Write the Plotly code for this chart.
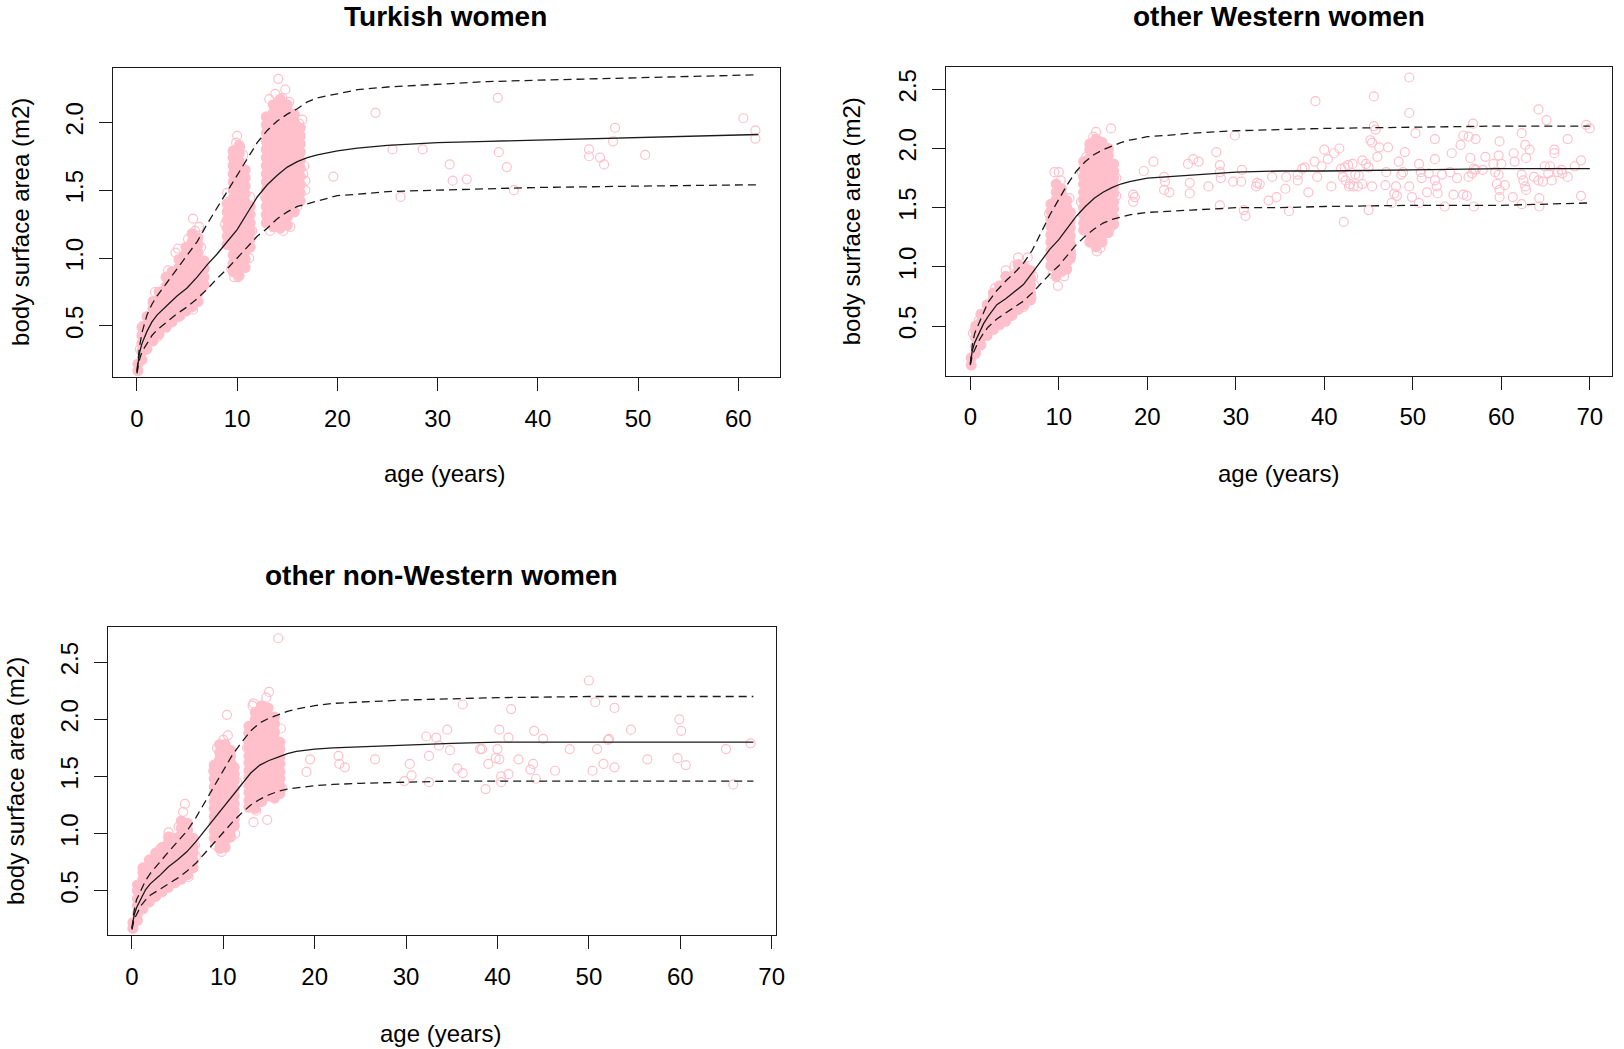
import plotly.graph_objects as go

PINK = "#FFC0CB"
INK = "#1a1a1a"
FONT = "Liberation Sans, Arial, sans-serif"
W, H = 1624, 1049

# ---------------- Turkish women ----------------
tk_col_age = [0.1, 0.5, 1.0, 1.6, 2.2, 2.9, 3.5, 4.2, 4.9, 5.5, 6.1, 6.7,
              9.0, 9.6, 10.2, 10.8, 11.3,
              12.9, 13.6, 14.3, 15.0, 15.7, 16.3]
tk_col_bsa = [
    [0.17, 0.22],
    [0.25, 0.31, 0.37, 0.43, 0.49],
    [0.33, 0.39, 0.45, 0.51, 0.57],
    [0.39, 0.45, 0.51, 0.57, 0.63, 0.68],
    [0.44, 0.50, 0.56, 0.62, 0.68, 0.75],
    [0.49, 0.55, 0.61, 0.67, 0.73, 0.79, 0.86],
    [0.53, 0.59, 0.65, 0.71, 0.77, 0.83, 0.90],
    [0.57, 0.63, 0.69, 0.75, 0.81, 0.87, 0.93, 0.99],
    [0.61, 0.67, 0.73, 0.79, 0.85, 0.91, 0.97, 1.03, 1.08],
    [0.64, 0.70, 0.76, 0.82, 0.88, 0.94, 1.00, 1.06, 1.12, 1.18],
    [0.68, 0.74, 0.80, 0.86, 0.92, 0.98, 1.04, 1.10, 1.15],
    [0.80, 0.86, 0.92, 0.98],
    [1.10, 1.16, 1.22, 1.28, 1.34, 1.40],
    [0.90, 0.96, 1.02, 1.08, 1.14, 1.20, 1.26, 1.32, 1.38, 1.44, 1.50, 1.56, 1.62, 1.68, 1.74, 1.79],
    [0.87, 0.93, 0.99, 1.05, 1.11, 1.17, 1.23, 1.29, 1.35, 1.41, 1.47, 1.53, 1.59, 1.65, 1.71, 1.77, 1.83],
    [0.93, 0.99, 1.05, 1.11, 1.17, 1.23, 1.29, 1.35, 1.41, 1.47, 1.53, 1.59, 1.65],
    [1.08, 1.14, 1.20, 1.26, 1.32, 1.38],
    [1.26, 1.32, 1.38, 1.44, 1.50, 1.56, 1.62, 1.68, 1.74, 1.80, 1.86, 1.92, 1.98, 2.04],
    [1.23, 1.29, 1.35, 1.41, 1.47, 1.53, 1.59, 1.65, 1.71, 1.77, 1.83, 1.89, 1.95, 2.01, 2.07, 2.13],
    [1.22, 1.28, 1.34, 1.40, 1.46, 1.52, 1.58, 1.64, 1.70, 1.76, 1.82, 1.88, 1.94, 2.00, 2.06, 2.12, 2.17],
    [1.24, 1.30, 1.36, 1.42, 1.48, 1.54, 1.60, 1.66, 1.72, 1.78, 1.84, 1.90, 1.96, 2.02, 2.08, 2.13],
    [1.34, 1.40, 1.46, 1.52, 1.58, 1.64, 1.70, 1.76, 1.82, 1.88, 1.94, 2.00, 2.06],
    [1.42, 1.48, 1.54, 1.60, 1.66, 1.72, 1.78, 1.84, 1.90, 1.96],
]
tk_ring_age = [1.8, 3.1, 3.85, 4.1, 5.1, 5.6, 6.2, 6.4, 6.7, 1.3, 2.05, 3.3, 4.4, 5.4, 5.6, 6.4, 5.8, 4.8, 0.3, 0.6,
               10.0, 9.9, 10.3, 10.6, 9.7, 10.1, 9.4, 11.2, 9.0, 8.8, 11.5, 11.3,
               14.1, 14.8, 13.2, 14.5, 15.2, 13.8, 16.2, 16.8, 16.8, 16.6, 16.7, 13.3, 14.6, 15.3, 13.0, 12.8, 16.0, 16.5]
tk_ring_bsa = [0.75, 0.91, 1.04, 1.07, 1.14, 1.29, 1.23, 1.08, 0.93, 0.42, 0.42, 0.54, 0.58, 0.64, 0.62, 0.79, 1.20, 1.02, 0.33, 0.50,
               1.90, 1.85, 1.82, 1.76, 0.86, 0.86, 0.92, 1.00, 1.48, 1.25, 1.20, 1.45,
               2.32, 2.24, 2.17, 2.18, 2.15, 2.21, 1.99, 1.57, 1.50, 1.62, 1.68, 1.20, 1.20, 1.23, 1.30, 1.45, 1.38, 2.02]
tk_adult_age = [19.6, 23.8, 25.5, 26.3, 28.5, 31.2, 31.5, 32.9, 36.0, 36.1, 36.9, 37.6,
                45.1, 45.1, 46.2, 46.6, 47.5, 47.7, 50.7, 60.5, 61.7, 61.7]
tk_adult_bsa = [1.60, 2.07, 1.80, 1.45, 1.80, 1.69, 1.57, 1.58, 2.18, 1.78, 1.67, 1.50,
                1.80, 1.75, 1.74, 1.69, 1.86, 1.96, 1.76, 2.03, 1.94, 1.88]
tk_curve_age = [0, 0.25, 0.5, 1, 1.5, 2, 3, 4, 5, 6, 7, 8, 9, 10, 11, 12, 13, 14, 15, 16, 17, 18, 20, 22, 25, 30, 35, 40, 50, 62]
tk_median = [0.16, 0.30, 0.37, 0.46, 0.53, 0.58, 0.65, 0.72, 0.78, 0.86, 0.95, 1.03, 1.12, 1.21, 1.33, 1.45, 1.54, 1.61, 1.67, 1.71,
             1.74, 1.76, 1.79, 1.81, 1.83, 1.85, 1.86, 1.87, 1.89, 1.91]
tk_upper = [0.17, 0.34, 0.45, 0.58, 0.66, 0.72, 0.82, 0.92, 1.02, 1.12, 1.25, 1.37, 1.50, 1.62, 1.74, 1.85, 1.94, 2.01, 2.06, 2.10,
            2.15, 2.18, 2.21, 2.24, 2.26, 2.28, 2.30, 2.31, 2.33, 2.35]
tk_lower = [0.15, 0.25, 0.31, 0.37, 0.43, 0.47, 0.53, 0.59, 0.64, 0.70, 0.77, 0.85, 0.92, 1.00, 1.08, 1.16, 1.22, 1.29, 1.34, 1.38,
            1.40, 1.42, 1.46, 1.47, 1.49, 1.50, 1.51, 1.52, 1.53, 1.54]

# ---------------- other Western women ----------------
ow_col_age = [0.1, 0.6, 1.2, 1.9, 2.6, 3.3, 4.0, 4.7, 5.4, 6.1, 6.8,
              9.1, 9.7, 10.3, 10.9, 11.3,
              12.8, 13.5, 14.2, 14.9, 15.6, 16.2]
ow_col_bsa = [
    [0.17, 0.23],
    [0.27, 0.33, 0.40, 0.46, 0.50],
    [0.34, 0.40, 0.47, 0.53, 0.60],
    [0.42, 0.48, 0.55, 0.61, 0.68],
    [0.47, 0.53, 0.60, 0.66, 0.73, 0.78],
    [0.51, 0.57, 0.64, 0.70, 0.77, 0.84],
    [0.54, 0.60, 0.67, 0.73, 0.80, 0.86, 0.92],
    [0.59, 0.65, 0.72, 0.78, 0.85, 0.92],
    [0.64, 0.70, 0.77, 0.83, 0.90, 0.96, 1.02],
    [0.68, 0.74, 0.81, 0.87, 0.94, 1.00],
    [0.72, 0.78, 0.85, 0.91, 0.97],
    [1.01, 1.08, 1.14, 1.21, 1.27, 1.34, 1.40, 1.47, 1.53],
    [0.92, 0.98, 1.05, 1.11, 1.18, 1.24, 1.31, 1.37, 1.44, 1.50, 1.57, 1.63, 1.70],
    [0.96, 1.02, 1.09, 1.15, 1.22, 1.28, 1.35, 1.41, 1.48, 1.54, 1.61, 1.66],
    [0.98, 1.04, 1.11, 1.17, 1.24, 1.30, 1.37, 1.43, 1.50, 1.56],
    [1.07, 1.13, 1.20, 1.26, 1.33, 1.39, 1.46],
    [1.31, 1.37, 1.44, 1.50, 1.57, 1.63, 1.70, 1.76, 1.83, 1.89],
    [1.21, 1.27, 1.34, 1.40, 1.47, 1.53, 1.60, 1.66, 1.73, 1.79, 1.86, 1.92, 1.99, 2.04],
    [1.17, 1.23, 1.30, 1.36, 1.43, 1.49, 1.56, 1.62, 1.69, 1.75, 1.82, 1.88, 1.95, 2.01, 2.08],
    [1.21, 1.27, 1.34, 1.40, 1.47, 1.53, 1.60, 1.66, 1.73, 1.79, 1.86, 1.92, 1.99, 2.05],
    [1.29, 1.35, 1.42, 1.48, 1.55, 1.61, 1.68, 1.74, 1.81, 1.87, 1.94, 2.00],
    [1.36, 1.42, 1.49, 1.55, 1.62, 1.68, 1.75, 1.81, 1.87],
]
ow_ring_age = [4.0, 5.4, 6.5, 6.0, 3.7, 7.2, 7.1, 2.8, 1.0, 5.0, 6.9, 0.3,
               9.5, 10.0, 10.2, 9.9, 9.3, 10.6, 11.4, 8.9, 11.2,
               14.2, 13.9, 15.9, 14.6, 14.3, 14.1, 14.7, 15.8, 16.5, 16.5, 12.6, 12.5, 13.1]
ow_ring_bsa = [0.97, 1.08, 1.08, 0.66, 0.54, 0.85, 0.92, 0.82, 0.55, 1.01, 0.74, 0.44,
               1.80, 1.80, 1.73, 0.84, 0.94, 0.92, 1.10, 1.45, 1.58,
               2.14, 2.10, 2.17, 2.06, 1.13, 1.20, 1.16, 1.33, 1.60, 1.75, 1.80, 1.55, 1.93]
ow_adult_age = [18.4, 18.6, 18.4, 19.6, 20.7, 21.9, 22.0, 21.9, 22.5, 24.6, 25.2, 25.8, 24.8, 24.8, 26.9,
                27.8, 28.2, 28.2, 28.3, 28.2, 29.9, 29.7, 30.6, 30.7, 30.9, 31.1, 32.3, 32.4, 32.7, 33.7,
                34.1, 34.6, 35.6, 35.7, 36.0, 37.0, 37.0, 37.5, 37.8, 38.2, 38.9, 39.0, 39.2, 39.7, 40.0,
                40.4, 40.8, 41.1, 41.7, 41.9, 42.3, 42.7, 43.2, 42.1, 42.4, 42.9, 43.3, 43.8, 44.3, 42.8,
                43.5, 43.9, 42.2,
                49.6, 45.6, 49.6, 45.6, 45.8, 50.3, 45.2, 45.4, 46.2, 47.2,
                46.0, 52.5, 44.3, 44.7, 45.0, 45.4, 45.0, 47.0, 46.9, 47.6,
                47.9, 48.1, 48.2, 48.4, 48.7, 48.9, 49.1, 49.6, 49.9, 50.7,
                50.9, 51.0, 50.7, 51.6, 51.8, 52.5, 52.5, 52.7, 52.8, 53.3,
                53.6, 54.2, 54.4, 54.6, 55.0, 55.4, 55.7, 56.3, 55.7, 56.1,
                56.5, 56.7, 56.9, 57.1, 56.3, 56.8, 57.1, 56.9, 58.2, 57.9,
                59.1, 59.7, 59.3, 59.7, 60.0, 59.5, 60.4, 59.8, 59.8, 59.8,
                61.4, 61.5, 62.3, 61.3, 62.3, 62.5, 62.7, 62.8, 62.7, 62.8,
                63.2, 62.3, 63.7, 64.2, 64.3, 64.3, 64.2, 64.7, 65.1, 64.9,
                65.5, 65.3, 65.7, 66.0, 66.0, 66.4, 66.8, 66.9, 67.5, 67.5,
                68.3, 69.0, 69.0, 69.6, 70.0]
ow_adult_bsa = [1.61, 1.59, 1.55, 1.81, 1.89, 1.76, 1.72, 1.65, 1.63, 1.87, 1.91, 1.89, 1.71, 1.62, 1.68,
                1.97, 1.86, 1.80, 1.75, 1.52, 2.11, 1.72, 1.72, 1.82, 1.48, 1.43, 1.68, 1.71, 1.70, 1.56,
                1.76, 1.59, 1.66, 1.76, 1.47, 1.73, 1.78, 1.83, 1.84, 1.63, 1.89, 2.40, 1.76, 1.85, 1.99,
                1.91, 1.68, 1.96, 2.00, 1.83, 1.84, 1.86, 1.87, 1.76, 1.73, 1.70, 1.68, 1.68, 1.70, 1.68,
                1.78, 1.77, 1.38,
                2.60, 2.44, 2.30, 2.19, 2.16, 2.13, 2.07, 2.05, 2.01, 2.01,
                1.93, 2.08, 1.90, 1.87, 1.84, 1.68, 1.48, 1.80, 1.69, 1.54,
                1.62, 1.68, 1.60, 1.89, 1.78, 1.80, 1.97, 1.68, 1.59, 1.87,
                1.80, 1.75, 1.54, 1.63, 1.79, 1.91, 1.73, 1.68, 1.62, 1.78,
                1.51, 1.80, 1.96, 1.61, 1.75, 2.03, 2.11, 2.10, 1.61, 1.60,
                1.92, 1.79, 1.83, 1.82, 1.76, 2.21, 2.08, 1.51, 1.93, 1.82,
                1.87, 1.94, 1.80, 1.78, 1.87, 1.70, 1.69, 1.65, 1.59, 2.06,
                1.96, 1.89, 2.13, 1.59, 1.78, 1.73, 1.68, 1.65, 2.03, 1.92,
                1.99, 1.53, 1.76, 2.33, 1.58, 1.51, 1.73, 1.72, 2.24, 1.85,
                1.85, 1.79, 1.73, 1.99, 1.96, 1.80, 1.82, 1.79, 2.08, 1.76,
                1.85, 1.90, 1.60, 2.20, 2.17]
ow_curve_age = [0, 0.25, 0.5, 1, 1.5, 2, 3, 4, 5, 6, 7, 8, 9, 10, 11, 12, 13, 14, 15, 16, 17, 18, 20, 22, 25, 30, 35, 40, 50, 60, 70]
ow_median = [0.18, 0.30, 0.36, 0.44, 0.52, 0.58, 0.68, 0.73, 0.79, 0.85, 0.95, 1.05, 1.15, 1.23, 1.33, 1.43, 1.51, 1.58, 1.63, 1.67,
             1.70, 1.72, 1.75, 1.76, 1.78, 1.80, 1.81, 1.81, 1.82, 1.83, 1.83]
ow_upper = [0.18, 0.35, 0.44, 0.53, 0.62, 0.70, 0.80, 0.88, 0.95, 1.03, 1.14, 1.29, 1.44, 1.57, 1.70, 1.81, 1.89, 1.95, 1.99, 2.02,
            2.05, 2.07, 2.10, 2.11, 2.13, 2.15, 2.16, 2.17, 2.18, 2.19, 2.19]
ow_lower = [0.17, 0.26, 0.30, 0.38, 0.44, 0.49, 0.56, 0.61, 0.66, 0.71, 0.78, 0.86, 0.94, 1.01, 1.10, 1.19, 1.26, 1.32, 1.37, 1.40,
            1.42, 1.44, 1.46, 1.47, 1.48, 1.50, 1.50, 1.51, 1.52, 1.52, 1.54]

# ---------------- other non-Western women ----------------
on_col_age = [0.1, 0.6, 1.2, 1.9, 2.6, 3.3, 4.0, 4.7, 5.4, 6.1, 6.7,
              9.0, 9.6, 10.2, 10.8, 11.2,
              12.8, 13.5, 14.2, 14.9, 15.6, 16.2]
on_col_bsa = [
    [0.17, 0.22],
    [0.24, 0.30, 0.37, 0.43, 0.50, 0.55],
    [0.34, 0.40, 0.47, 0.53, 0.60, 0.66, 0.70],
    [0.40, 0.46, 0.53, 0.59, 0.66, 0.72, 0.77],
    [0.45, 0.51, 0.58, 0.64, 0.71, 0.77, 0.83],
    [0.49, 0.55, 0.62, 0.68, 0.75, 0.81, 0.88],
    [0.53, 0.59, 0.66, 0.72, 0.79, 0.85, 0.92, 0.97],
    [0.57, 0.63, 0.70, 0.76, 0.83, 0.89, 0.96],
    [0.60, 0.66, 0.73, 0.79, 0.86, 0.92, 0.99, 1.05, 1.11],
    [0.64, 0.70, 0.77, 0.83, 0.90, 0.96, 1.03, 1.09],
    [0.70, 0.76, 0.83, 0.89, 0.96],
    [0.96, 1.02, 1.09, 1.15, 1.22, 1.28, 1.35, 1.41, 1.48, 1.54, 1.60],
    [0.87, 0.93, 1.00, 1.06, 1.13, 1.19, 1.26, 1.32, 1.39, 1.45, 1.52, 1.58, 1.65, 1.71, 1.78],
    [0.88, 0.94, 1.01, 1.07, 1.14, 1.20, 1.27, 1.33, 1.40, 1.46, 1.53, 1.59, 1.66, 1.72, 1.78],
    [0.97, 1.03, 1.10, 1.16, 1.23, 1.29, 1.36, 1.42, 1.49, 1.55, 1.62, 1.68, 1.73],
    [1.07, 1.13, 1.20, 1.26, 1.33, 1.39, 1.46, 1.52, 1.58],
    [1.23, 1.29, 1.36, 1.42, 1.49, 1.55, 1.62, 1.68, 1.75, 1.81, 1.88, 1.94],
    [1.22, 1.28, 1.35, 1.41, 1.48, 1.54, 1.61, 1.67, 1.74, 1.80, 1.87, 1.93, 2.00, 2.06],
    [1.28, 1.34, 1.41, 1.47, 1.54, 1.60, 1.67, 1.73, 1.80, 1.86, 1.93, 1.99, 2.06, 2.12],
    [1.33, 1.39, 1.46, 1.52, 1.59, 1.65, 1.72, 1.78, 1.85, 1.91, 1.98, 2.04, 2.10],
    [1.31, 1.37, 1.44, 1.50, 1.57, 1.63, 1.70, 1.76, 1.83, 1.89, 1.96, 2.02],
    [1.35, 1.41, 1.48, 1.54, 1.61, 1.67, 1.74, 1.80],
]
on_ring_age = [5.8, 5.6, 4.0, 4.1, 7.0, 6.9, 4.1, 2.4, 3.0, 5.1, 6.2,
               10.4, 10.5, 10.0, 9.3, 9.8, 11.3, 8.9, 11.5, 9.1,
               13.3, 13.2, 15.0, 14.7, 16.0, 13.3, 14.8, 13.6, 16.3, 16.4, 12.6]
on_ring_bsa = [1.26, 1.19, 1.01, 0.97, 0.80, 0.90, 0.56, 0.47, 0.86, 1.06, 0.62,
               2.04, 1.86, 1.82, 1.75, 0.84, 1.00, 1.55, 1.45, 0.90,
               2.14, 2.12, 2.24, 2.19, 2.71, 1.10, 1.12, 1.20, 1.92, 1.40, 1.75]
on_adult_age = [19.1, 19.5, 22.6, 22.7, 23.3, 26.6, 29.8, 30.4, 30.6, 32.2, 32.5, 32.5, 33.3, 33.6, 34.5,
                34.8, 35.6, 36.2, 36.2, 38.1, 38.3, 38.7, 39.0, 39.8, 40.0, 40.2, 40.2, 40.4, 40.4, 41.2,
                41.2, 41.5, 42.3, 43.6, 43.9, 44.0, 44.2,
                45.0, 46.3, 47.9, 50.0, 50.7, 50.9, 50.4, 51.6, 52.1, 52.2, 52.8, 52.8, 54.6, 56.4,
                59.7, 59.9, 60.1, 60.6, 65.0, 65.8, 67.7]
on_adult_bsa = [1.54, 1.65, 1.68, 1.61, 1.58, 1.65, 1.46, 1.61, 1.51, 1.85, 1.68, 1.45, 1.84, 1.77, 1.91,
                1.73, 1.57, 2.13, 1.53, 1.74, 1.74, 1.39, 1.61, 1.66, 1.74, 1.65, 1.91, 1.50, 1.45, 1.84,
                1.52, 2.09, 1.65, 1.56, 1.61, 1.90, 1.48,
                1.83, 1.55, 1.74, 2.34, 2.15, 1.74, 1.55, 1.61, 1.82, 1.83, 2.10, 1.58, 1.91, 1.65,
                1.66, 2.00, 1.90, 1.60, 1.74, 1.43, 1.79]
on_curve_age = [0, 0.25, 0.5, 1, 1.5, 2, 3, 4, 5, 6, 7, 8, 9, 10, 11, 12, 13, 14, 15, 16, 17, 18, 20, 22, 25, 30, 35, 40, 50, 68]
on_median = [0.17, 0.29, 0.35, 0.43, 0.51, 0.56, 0.63, 0.71, 0.77, 0.84, 0.93, 1.03, 1.13, 1.23, 1.34, 1.44, 1.53, 1.60, 1.64, 1.67,
             1.70, 1.72, 1.74, 1.75, 1.76, 1.78, 1.79, 1.80, 1.80, 1.80]
on_upper = [0.17, 0.33, 0.42, 0.50, 0.59, 0.65, 0.75, 0.84, 0.93, 1.02, 1.14, 1.28, 1.42, 1.56, 1.69, 1.80, 1.90, 1.97, 2.01, 2.04,
            2.07, 2.09, 2.12, 2.14, 2.15, 2.17, 2.18, 2.19, 2.20, 2.20]
on_lower = [0.16, 0.25, 0.29, 0.37, 0.42, 0.46, 0.51, 0.56, 0.61, 0.67, 0.74, 0.83, 0.92, 1.01, 1.10, 1.18, 1.25, 1.30, 1.34, 1.37,
            1.39, 1.40, 1.42, 1.43, 1.44, 1.45, 1.46, 1.46, 1.46, 1.46]

titles = ["Turkish women", "other Western women", "other non-Western women"]
x_tickvals = [[0, 10, 20, 30, 40, 50, 60], [0, 10, 20, 30, 40, 50, 60, 70], [0, 10, 20, 30, 40, 50, 60, 70]]
y_tickvals = [[0.5, 1.0, 1.5, 2.0], [0.5, 1.0, 1.5, 2.0, 2.5], [0.5, 1.0, 1.5, 2.0, 2.5]]

# panel boxes in pixels: left, right, top, bottom ; axis ranges
boxes = [(113.5, 784, 68.4, 377), (951.5, 1621, 66.5, 375.5), (108.5, 780, 626.5, 935)]
x_ranges = [[-2.40, 64.12], [-2.72, 72.51], [-2.63, 70.44]]
y_ranges = [[0.124, 2.397], [0.082, 2.693], [0.112, 2.813]]


def flatten(cols_age, cols_bsa):
    xs, ys = [], []
    for a, vals in zip(cols_age, cols_bsa):
        for v in vals:
            xs.append(a)
            ys.append(v)
    return xs, ys


panels = [
    (tk_col_age, tk_col_bsa, tk_ring_age + tk_adult_age, tk_ring_bsa + tk_adult_bsa,
     tk_curve_age, tk_median, tk_upper, tk_lower),
    (ow_col_age, ow_col_bsa, ow_ring_age + ow_adult_age, ow_ring_bsa + ow_adult_bsa,
     ow_curve_age, ow_median, ow_upper, ow_lower),
    (on_col_age, on_col_bsa, on_ring_age + on_adult_age, on_ring_bsa + on_adult_bsa,
     on_curve_age, on_median, on_upper, on_lower),
]

fig = go.Figure()
for i, (ca, cb, ra, rb, cage, med, up, lo) in enumerate(panels):
    xa = "x" if i == 0 else f"x{i+1}"
    ya = "y" if i == 0 else f"y{i+1}"
    dx, dy = flatten(ca, cb)
    fig.add_trace(go.Scatter(x=dx, y=dy, xaxis=xa, yaxis=ya, mode="markers",
                             marker=dict(symbol="circle", size=11, color=PINK, line=dict(width=0)),
                             hoverinfo="skip", showlegend=False))
    fig.add_trace(go.Scatter(x=ra, y=rb, xaxis=xa, yaxis=ya, mode="markers",
                             marker=dict(symbol="circle-open", size=9, color=PINK, line=dict(width=1.2, color=PINK)),
                             hoverinfo="skip", showlegend=False))
    for vals, dash in ((up, "8px,5px"), (lo, "8px,5px"), (med, "solid")):
        fig.add_trace(go.Scatter(x=cage, y=vals, xaxis=xa, yaxis=ya, mode="lines",
                                 line=dict(color=INK, width=1.3, dash=dash),
                                 hoverinfo="skip", showlegend=False))

layout = dict(width=W, height=H, margin=dict(l=0, r=0, t=0, b=0),
              paper_bgcolor="white", plot_bgcolor="white", showlegend=False,
              font=dict(family=FONT, size=24, color="black"))
annotations = []
title_pos = [(448, 17), (1286, 17), (444, 575)]
xtitle_pos = [(447, 474), (1286, 473), (443, 1033)]
ytitle_pos = [(21, 222), (857, 221), (15, 781)]
for i in range(3):
    l, r, t, b = boxes[i]
    sx = "" if i == 0 else str(i + 1)
    layout["xaxis" + sx] = dict(
        domain=[l / W, r / W], range=x_ranges[i], anchor="y" + sx,
        tickmode="array", tickvals=x_tickvals[i], ticks="outside", ticklen=13, tickwidth=1.3,
        tickcolor=INK, showline=True, mirror=True, linecolor=INK, linewidth=1.3,
        ticklabelstandoff=7,
        showgrid=False, zeroline=False, tickfont=dict(size=24, family=FONT, color="black"))
    layout["yaxis" + sx] = dict(
        domain=[1 - b / H, 1 - t / H], range=y_ranges[i], anchor="x" + sx,
        tickmode="array", tickvals=y_tickvals[i], tickformat=".1f", tickangle=-90,
        ticks="outside", ticklen=13, tickwidth=1.3, tickcolor=INK,
        ticklabelstandoff=6,
        showline=True, mirror=True, linecolor=INK, linewidth=1.3,
        showgrid=False, zeroline=False, tickfont=dict(size=24, family=FONT, color="black"))
    annotations.append(dict(text="<b>" + titles[i] + "</b>", x=title_pos[i][0] / W, y=1 - title_pos[i][1] / H,
                            xref="paper", yref="paper", xanchor="center", yanchor="middle", showarrow=False,
                            font=dict(size=28, family=FONT, color="black")))
    annotations.append(dict(text="age (years)", x=xtitle_pos[i][0] / W, y=1 - xtitle_pos[i][1] / H,
                            xref="paper", yref="paper", xanchor="center", yanchor="middle", showarrow=False,
                            font=dict(size=24, family=FONT, color="black")))
    annotations.append(dict(text="body surface area (m2)", x=ytitle_pos[i][0] / W, y=1 - ytitle_pos[i][1] / H,
                            xref="paper", yref="paper", xanchor="center", yanchor="middle", showarrow=False,
                            textangle=-90, font=dict(size=24, family=FONT, color="black")))
layout["annotations"] = annotations
fig.update_layout(**layout)
fig.write_html("out.html", config={"displayModeBar": False})
